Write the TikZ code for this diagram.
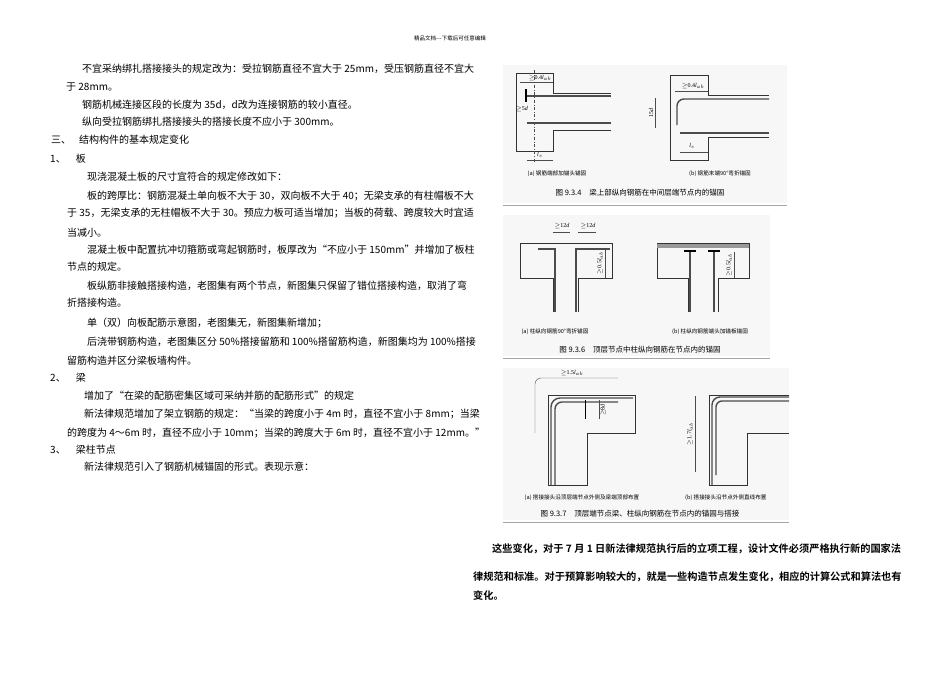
\documentclass[tikz,border=0pt]{standalone}
\usepackage{fontspec}
\setmainfont{Liberation Serif}
\newfontfamily\cjk{Noto Sans CJK SC}
\newfontfamily\cjkb{Noto Sans CJK SC Bold}
\newcommand{\gq}{\ensuremath{\geq}}
\begin{document}
\begin{tikzpicture}[x=1pt,y=-1pt,
  tx/.style={anchor=west,inner sep=0pt,font=\cjk\fontsize{10}{12}\selectfont},
  bt/.style={anchor=west,inner sep=0pt,font=\cjkb\fontsize{10.2}{12}\selectfont},
  subcap/.style={inner sep=0pt,font=\cjk\fontsize{5.6}{7}\selectfont},
  fcap/.style={inner sep=0pt,font=\cjk\fontsize{7.5}{9}\selectfont},
  dim/.style={inner sep=0pt,font=\fontsize{6}{7}\selectfont},
  ol/.style={line width=0.6pt,black!80},
  bar/.style={line width=1.4pt,black!70},
  dl/.style={line width=0.4pt,black!70},
  rule/.style={line width=0.6pt,black!35}]
\useasboundingbox (0,0) rectangle (950,672);
\fill[white] (0,0) rectangle (950,672);
\node[inner sep=0pt,font=\cjk\fontsize{5.5}{6}\selectfont] (hdr) at (450,38) {精品文档---下载后可任意编辑};
% left column
\node[tx] (l1) at (82,69) {不宜采纳绑扎搭接接头的规定改为：受拉钢筋直径不宜大于 25mm，受压钢筋直径不宜大};
\node[tx] (l2) at (66,87) {于 28mm。};
\node[tx] (l3) at (82,105) {钢筋机械连接区段的长度为 35\textit{d}，\textit{d}改为连接钢筋的较小直径。};
\node[tx] (l4) at (82,122) {纵向受拉钢筋绑扎搭接接头的搭接长度不应小于 300mm。};
\node[tx] (l5) at (51,140) {三、\hspace{8pt}结构构件的基本规定变化};
\node[tx] (l6) at (50,159) {1、\hspace{10pt}板};
\node[tx] (l7) at (87,177) {现浇混凝土板的尺寸宜符合的规定修改如下：};
\node[tx] (l8) at (87,196) {板的跨厚比：钢筋混凝土单向板不大于 30，双向板不大于 40；无梁支承的有柱帽板不大};
\node[tx] (l9) at (67,213) {于 35，无梁支承的无柱帽板不大于 30。预应力板可适当增加；当板的荷载、跨度较大时宜适};
\node[tx] (l10) at (67,233) {当减小。};
\node[tx] (l11) at (87,250) {混凝土板中配置抗冲切箍筋或弯起钢筋时，板厚改为“不应小于 150mm”并增加了板柱};
\node[tx] (l12) at (67,267) {节点的规定。};
\node[tx] (l13) at (87,286) {板纵筋非接触搭接构造，老图集有两个节点，新图集只保留了错位搭接构造，取消了弯};
\node[tx] (l14) at (67,303) {折搭接构造。};
\node[tx] (l15) at (87,323) {单（双）向板配筋示意图，老图集无，新图集新增加；};
\node[tx] (l16) at (87,342) {后浇带钢筋构造，老图集区分 50\%搭接留筋和 100\%搭留筋构造，新图集均为 100\%搭接};
\node[tx] (l17) at (67,361) {留筋构造并区分梁板墙构件。};
\node[tx] (l18) at (50,378) {2、\hspace{10pt}梁};
\node[tx] (l19) at (84,396) {增加了“在梁的配筋密集区域可采纳并筋的配筋形式”的规定};
\node[tx] (l20) at (84,414) {新法律规范增加了架立钢筋的规定：“当梁的跨度小于 4m 时，直径不宜小于 8mm；当梁};
\node[tx] (l21) at (67,433) {的跨度为 4～6m 时，直径不应小于 10mm；当梁的跨度大于 6m 时，直径不宜小于 12mm。”};
\node[tx] (l22) at (50,450) {3、\hspace{10pt}梁柱节点};
\node[tx] (l23) at (84,467) {新法律规范引入了钢筋机械锚固的形式。表现示意：};
% ---------- Fig 9.3.4 ----------
\fill[black!3] (503,65) rectangle (787,203);
\draw[ol] (553,93) -- (553,73) -- (516,73) -- (516,151) -- (553,151) -- (553,130) -- (611,130);
\draw[ol] (553,93) -- (611,93);
\draw[bar] (527,96) -- (611,96);
\draw[bar] (527,123) -- (611,123);
\draw[line width=2pt] (526,89) -- (526,102);
\draw[dl,dash dot] (534,70) -- (534,162);
\draw[dl] (520,82) -- (553,82);
\node[dim] (d1) at (540,78) {\gq0.4\textit{l}$_{ab}$};
\node[dim] (d2) at (522,109) {\gq5\textit{d}};
\draw[dl] (527,160) -- (553,160);
\node[dim] (d3) at (540,155) {\textit{l}$_s$};
\node[subcap] (c1) at (557,174) {(a) 钢筋端部加锚头锚固};
\draw[ol] (708,95) -- (708,75) -- (670,75) -- (670,160) -- (708,160) -- (708,137) -- (769,137);
\draw[ol] (708,95) -- (769,95);
\draw[bar] (769,99) -- (684,99) arc (270:180:7) -- (677,125);
\draw[bar] (680,133) -- (769,133);
\draw[dl] (655,98) -- (655,128);
\node[dim,rotate=90] (d4) at (651,113) {15\textit{d}};
\draw[dl] (675,91) -- (708,91);
\node[dim] (d5) at (693,86) {\gq0.4\textit{l}$_{ab}$};
\draw[dl] (680,152) -- (708,152);
\node[dim] (d6) at (692,146) {\textit{l}$_s$};
\node[subcap] (c2) at (720,174) {(b) 钢筋末端90°弯折锚固};
\node[fcap] (f1) at (640,193) {图 9.3.4\hspace{8pt}梁上部纵向钢筋在中间层端节点内的锚固};
\draw[rule] (503,205) -- (787,205);
% ---------- Fig 9.3.6 ----------
\fill[black!3] (503,215) rectangle (770,356);
\draw[ol] (553,312) -- (553,278) -- (520,278) -- (520,243) -- (612,243) -- (612,278) -- (578,278) -- (578,312);
\draw[bar] (555,312) -- (555,249) -- (538,249);
\draw[bar] (576,312) -- (576,249) -- (610,249);
\draw[dl] (553,232) -- (570,232); \draw[dl] (578,232) -- (596,232);
\node[dim] (d7) at (562,226) {\gq12\textit{d}};
\node[dim] (d8) at (588,226) {\gq12\textit{d}};
\draw[dl] (600,249) -- (605,249) -- (605,278);
\node[dim,rotate=90] (d9) at (600,263) {\gq0.5\textit{l}$_{ab}$};
\node[subcap] (c3) at (555,332) {(a) 柱纵向钢筋90°弯折锚固};
\draw[ol] (688,312) -- (688,278) -- (657,278) -- (657,243) -- (749,243) -- (749,278) -- (718,278) -- (718,312);
\fill[black!40] (657,244) rectangle (749,248);
\draw[bar] (690,312) -- (690,252); \draw[bar] (714,312) -- (714,252);
\draw[line width=2pt] (684,251) -- (696,251); \draw[line width=2pt] (708,251) -- (720,251);
\draw[dl] (734,252) -- (734,278);
\node[dim,rotate=90] (d10) at (729,265) {\gq0.5\textit{l}$_{ab}$};
\node[subcap] (c4) at (710,332) {(b) 柱纵向钢筋端头加锚板锚固};
\node[fcap] (f2) at (640,350) {图 9.3.6\hspace{8pt}顶层节点中柱纵向钢筋在节点内的锚固};
\draw[rule] (503,358) -- (770,358);
% ---------- Fig 9.3.7 ----------
\fill[black!3] (503,368) rectangle (789,520);
\draw[ol] (548,395) -- (635,395) -- (635,433) -- (587,433) -- (587,485) -- (548,485) -- cycle;
\draw[bar] (551,485) -- (551,407) arc (180:270:9) -- (633,398);
\draw[bar] (555,485) -- (555,409) arc (180:270:7) -- (618,402);
\draw[line width=1pt] (585,400) -- (585,419);
\draw[dl] (535,433) -- (535,384) arc (180:270:6) -- (618,378);
\node[dim] (d11) at (572,373) {\gq1.5\textit{l}$_{ab}$};
\draw[dl] (599,400) -- (599,419);
\node[dim,rotate=90] (d12) at (603,410) {\gq8\textit{d}};
\node[subcap] (c5) at (582,498) {(a) 搭接接头沿顶层端节点外侧及梁端顶部布置};
\draw[ol] (789,395) -- (709,395) -- (709,485) -- (747,485) -- (747,433) -- (789,433);
\draw[bar] (712,485) -- (712,405) arc (180:270:8) -- (789,397);
\draw[bar] (716,475) -- (716,407) arc (180:270:6) -- (789,401);
\draw[dl] (695,396) -- (695,472);
\node[dim,rotate=90] (d13) at (690,434) {\gq1.7\textit{l}$_{ab}$};
\node[subcap,anchor=west] (c6) at (685,498) {(b) 搭接接头沿节点外侧直线布置};
\node[fcap] (f3) at (640,514) {图 9.3.7\hspace{8pt}顶层端节点梁、柱纵向钢筋在节点内的锚固与搭接};
\draw[rule] (503,522) -- (789,522);
% bottom paragraph
\node[bt] (b1) at (492,549) {这些变化，对于 7 月 1 日新法律规范执行后的立项工程，设计文件必须严格执行新的国家法};
\node[bt] (b2) at (473,577) {律规范和标准。对于预算影响较大的，就是一些构造节点发生变化，相应的计算公式和算法也有};
\node[bt] (b3) at (473,596) {变化。};
\end{tikzpicture}
\end{document}
